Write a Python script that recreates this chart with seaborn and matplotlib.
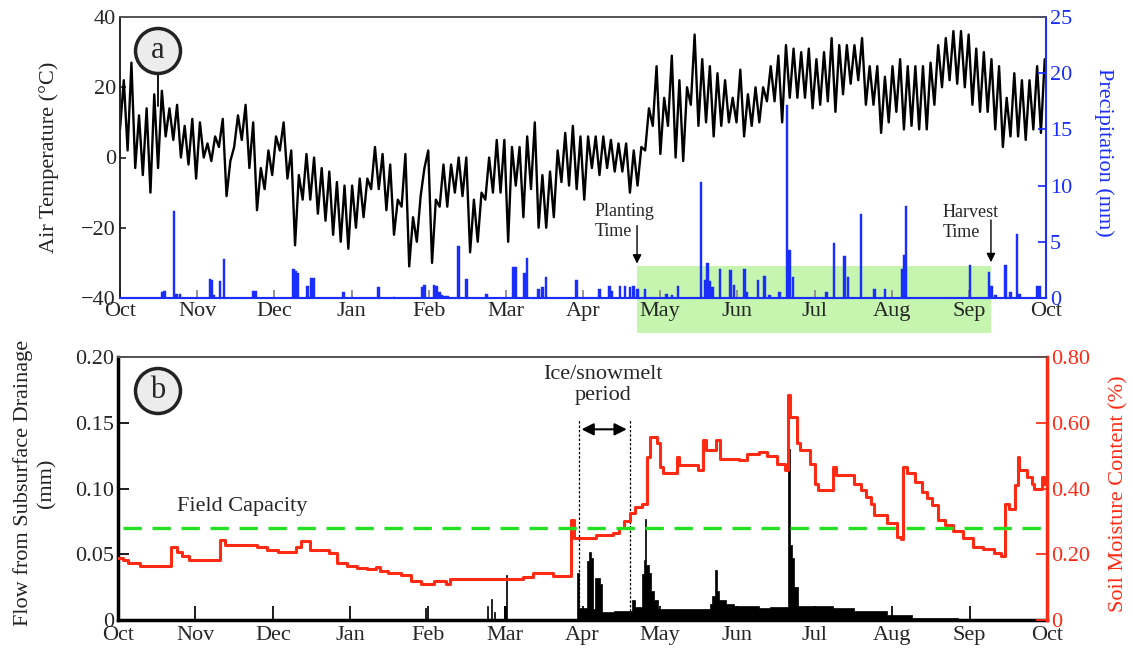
import numpy as np
import pandas as pd
import matplotlib
matplotlib.use("Agg")
import matplotlib.pyplot as plt
import seaborn as sns
from matplotlib.patches import Rectangle, Circle

# ---------------- data ----------------
month_labels = ['Oct', 'Nov', 'Dec', 'Jan', 'Feb', 'Mar', 'Apr',
                'May', 'Jun', 'Jul', 'Aug', 'Sep', 'Oct']

# air temperature envelope, sampled every 3 days from 1 Oct (°C)
temp_hi = [22, 27, 12, 14, 18, 19, 14, 15, 9, 11, 10, 4, 6, 11, -1, 12, 15, 10, -3, 2,
           6, 10, 2, -5, 1, 0, -3, -4, -7, -8, -8, -6, -6, 3, 1, -2, -12, 1, -17, -11,
           2, -12, -2, -2, 0, 0, -12, -10, 0, 5, 5, 3, 3, 6, 10, -5, -4, 2, 7, 9,
           6, 6, 6, 6, 5, 4, 4, 2, 3, 14, 26, 17, 29, 22, 20, 35, 28, 26, 24, 22,
           17, 25, 18, 20, 20, 26, 29, 32, 31, 30, 31, 28, 30, 34, 32, 32, 32, 34, 26, 26,
           23, 26, 28, 26, 26, 26, 27, 32, 34, 36, 36, 35, 31, 30, 28, 26, 17, 24, 22, 22,
           26, 28]
temp_lo = [8, 2, -3, -5, -10, -3, 6, 5, 0, -2, -6, 0, -1, 3, -11, 3, 5, -3, -15, -9,
           -5, 2, -6, -25, -12, -12, -16, -18, -22, -24, -26, -20, -17, -9, -9, -15, -22, -14, -31, -24,
           -3, -30, -14, -14, -10, -11, -27, -24, -12, -10, -10, -24, -8, -17, -9, -20, -20, -17, -7, -8,
           -9, -12, -3, -5, -3, -4, -4, -10, -8, 2, 9, 1, 9, 0, -1, 15, 9, 10, 6, 9,
           10, 10, 6, 9, 10, 16, 16, 10, 17, 17, 17, 14, 15, 16, 13, 18, 21, 22, 15, 15,
           7, 10, 13, 8, 9, 8, 8, 15, 20, 22, 21, 20, 15, 13, 13, 8, 3, 6, 6, 5,
           8, 7]

# precipitation events (day from 1 Oct, mm)
precip_day = [16.5, 17.5, 21.3, 22.3, 23.7, 35.5, 36.2, 37, 39.5, 41, 52.7, 53.5, 68.3, 69.3,
              70, 74, 75.3, 76.2, 88, 101.8, 108, 119.2, 120, 123.8, 124.8, 126, 127, 128,
              129, 133.5, 136.5, 144.5, 155, 155.8, 159.5, 160.5, 165, 166.5, 168, 180,
              189, 193, 193.8, 197, 199, 201, 202.5, 204, 207, 215.5, 217.5, 220, 229,
              230.5, 231.5, 232.5, 233.5, 236.5, 240.6, 242, 246.2, 247, 251.5, 254, 256,
              260, 263, 264, 265.3, 278.5, 281.5, 285.5, 287, 292, 297.5, 301.5, 308.5,
              309.3, 309.9, 335, 342.5, 343.5, 345, 349, 351, 353.5, 354.5, 361.5, 362.5]
precip_mm = [0.5, 0.6, 7.7, 0.4, 0.35, 1.7, 1.6, 0.3, 1.5, 3.5, 0.6, 0.6, 2.6, 2.4,
             2.2, 1.1, 1.8, 1.8, 0.55, 0.95, 0.1, 1.0, 1.2, 1.2, 1.1, 0.5, 0.3, 0.2,
             0.2, 4.6, 1.7, 0.35, 2.8, 2.8, 2.2, 3.6, 0.8, 1.0, 1.9, 1.6,
             0.8, 1.1, 0.6, 1.1, 1.1, 1.0, 1.1, 0.8, 0.8, 0.4, 0.3, 1.1, 10.3,
             1.6, 3.1, 1.5, 1.0, 2.6, 2.5, 1.2, 2.6, 0.5, 1.6, 2.0, 0.3,
             0.5, 17.2, 4.3, 1.9, 0.5, 4.9, 3.7, 1.9, 7.5, 0.8, 0.8, 2.6,
             3.8, 8.2, 2.9, 2.3, 1.1, 0.3, 2.9, 0.5, 5.7, 0.4, 1.1, 1.1]

# subsurface drainage flow (step breakpoints: day, mm)
flow_day = [0, 120.5, 121.2, 144.8, 145.3, 146.5, 147, 147.8, 148.3, 151.5, 152.5, 152.9,
            180.3, 181, 184.3, 185, 186, 186.6, 187.6, 189.2, 190.2, 195, 202, 203,
            205.8, 206.5, 207.2, 207.6, 208.5, 209.5, 210.5, 212, 232.5, 233.3, 234.5,
            235.3, 236, 239, 242, 252, 256, 263.2, 263.9, 264.7, 265.5, 267, 281, 289,
            302, 312, 330, 365]
flow_mm = [0, 0.009, 0, 0.011, 0, 0.016, 0, 0.006, 0, 0.011, 0.034, 0,
           0.036, 0.009, 0.045, 0.052, 0.047, 0.008, 0.032, 0.027, 0.006, 0.007, 0.015, 0.010,
           0.035, 0.046, 0.077, 0.042, 0.036, 0.022, 0.015, 0.008, 0.012, 0.018, 0.038,
           0.022, 0.015, 0.012, 0.011, 0.009, 0.010, 0.13, 0.057, 0.047, 0.025, 0.011, 0.009, 0.007,
           0.004, 0.0015, 0, 0]

# soil moisture content (step breakpoints: day, value)
sm_day = [0, 2, 4, 8.5, 21, 23, 25, 28, 40, 42, 54.5, 58.5, 63, 70, 72, 75.5, 83, 86, 90,
          94, 98, 101.5, 103, 106, 111, 115, 119, 124, 129, 130.5, 159, 163, 171, 178,
          179, 188, 194.6, 197, 199, 201, 203, 206, 208, 209, 211.6, 213, 214, 219.5,
          220.5, 228, 230, 231, 235, 236.5, 244, 247, 252, 255, 259, 262, 263.4, 264,
          266.7, 268, 272, 273.8, 275, 281, 282, 289, 292, 294, 296, 297, 302, 306,
          307.5, 308.5, 310, 313, 316, 318, 320, 322, 325, 328, 332, 336, 340, 344,
          347, 348.5, 350, 352.4, 353.5, 354, 357, 359, 360, 363, 364, 365]
sm_val = [0.190, 0.182, 0.174, 0.164, 0.223, 0.208, 0.194, 0.184, 0.243, 0.228, 0.223,
          0.213, 0.208, 0.223, 0.241, 0.213, 0.205, 0.172, 0.164, 0.157, 0.154, 0.162,
          0.150, 0.144, 0.137, 0.119, 0.111, 0.119, 0.111, 0.124, 0.132, 0.144, 0.134,
          0.304, 0.248, 0.258, 0.266, 0.280, 0.300, 0.324, 0.344, 0.354, 0.496, 0.557,
          0.537, 0.466, 0.446, 0.496, 0.471, 0.456, 0.547, 0.516, 0.547, 0.491, 0.486,
          0.506, 0.511, 0.498, 0.476, 0.456, 0.684, 0.618, 0.537, 0.516, 0.476, 0.415,
          0.395, 0.466, 0.440, 0.415, 0.395, 0.374, 0.354, 0.319, 0.294, 0.253, 0.245,
          0.466, 0.446, 0.420, 0.390, 0.370, 0.350, 0.304, 0.290, 0.270, 0.248, 0.223,
          0.215, 0.203, 0.194, 0.354, 0.339, 0.410, 0.496, 0.456, 0.435, 0.415, 0.397,
          0.435, 0.415, 0.415]

field_capacity = 0.07
planting_day, harvest_day = 203.8, 343.3
melt_start, melt_end = 181, 201

# ---------------- style ----------------
sns.set_theme(style="ticks")
plt.rcParams['font.family'] = ['Liberation Serif', 'DejaVu Serif']
plt.rcParams['axes.unicode_minus'] = True

BLUE = '#1a2eff'
RED = '#ff2a14'
GREEN = '#22e022'
FILL = '#c6f5b0'

fig = plt.figure(figsize=(11.33, 6.49), dpi=100)
ax1 = fig.add_axes([120/1133, 1-298/649, 926/1133, 281/649])
ax2 = ax1.twinx()
ax3 = fig.add_axes([118/1133, 1-620/649, 929/1133, 263/649])
ax4 = ax3.twinx()

month_pos = np.linspace(0, 365, 13)

# ---- panel a: temperature ----
days3 = np.arange(len(temp_hi)) * 3.0
zx = np.empty(2 * len(days3)); zy = np.empty(2 * len(days3))
zx[0::2] = days3; zx[1::2] = days3 + 1.5
zy[0::2] = temp_lo; zy[1::2] = temp_hi
df_t = pd.DataFrame({'day': zx, 'temp': zy})
sns.lineplot(data=df_t, x='day', y='temp', ax=ax1, color='black', lw=1.7,
             estimator=None, sort=False)
ax1.set_xlim(0, 365)
ax1.set_ylim(-40, 40)
ax1.set_yticks([-40, -20, 0, 20, 40])
ax1.set_xticks(month_pos)
ax1.set_xticklabels(month_labels)
ax1.set_xlabel('')
ax1.set_ylabel('Air Temperature (\u00b0C)', fontsize=16, color='#222222')
ax1.yaxis.set_label_coords(-0.066, 0.5)
ax1.tick_params(axis='x', direction='in', length=6, color='#888888', labelsize=16, pad=3)
ax1.tick_params(axis='y', direction='in', length=4, labelsize=16, pad=3)
ax1.spines['top'].set_color('#555555')
ax1.spines['left'].set_color('black')
ax1.spines['left'].set_linewidth(1.2)
ax1.spines['bottom'].set_color(BLUE)
ax1.spines['bottom'].set_linewidth(1.5)
ax1.set_axisbelow(True)

# growing season box
ax1.add_patch(Rectangle((planting_day, -50), harvest_day - planting_day, 19.1,
                        facecolor=FILL, edgecolor='none', clip_on=False, zorder=0.1))

# precipitation
df_p = pd.DataFrame({'day': precip_day, 'mm': precip_mm})
ax2.bar(df_p['day'], df_p['mm'], width=1.0, color=BLUE, edgecolor=BLUE, lw=0.3)
ax2.set_ylim(0, 25)
ax2.set_yticks([0, 5, 10, 15, 20, 25])
ax2.tick_params(axis='y', direction='in', length=6, colors=BLUE, labelsize=16, pad=3)
ax2.spines['right'].set_color(BLUE)
ax2.spines['right'].set_linewidth(1.5)
ax2.spines['top'].set_color('#555555')
ax2.spines['bottom'].set_color(BLUE)
ax2.spines['bottom'].set_linewidth(1.5)
ax2.set_ylabel('Precipitation (mm)', fontsize=16, color=BLUE, rotation=270, va='bottom')
ax2.yaxis.set_label_coords(1.052, 0.52)

# annotations panel a
ax1.text(187.2, -13.0, 'Planting\nTime', fontsize=13, ha='left', va='top', linespacing=1.2)
ax1.annotate('', xy=(planting_day, -31.0), xytext=(planting_day, -18.6),
             arrowprops=dict(arrowstyle='-|>', color='black', lw=1.0, mutation_scale=13))
ax1.text(324.4, -13.3, 'Harvest\nTime', fontsize=13, ha='left', va='top', linespacing=1.2)
ax1.annotate('', xy=(harvest_day, -30.6), xytext=(harvest_day, -17.0),
             arrowprops=dict(arrowstyle='-|>', color='black', lw=1.0, mutation_scale=13))

# ---- panel b: drainage + soil moisture ----
ax3.fill_between(flow_day, flow_mm, step='post', color='black', lw=0.5)
ax3.set_xlim(0, 365)
ax3.set_ylim(0, 0.20)
ax3.set_yticks([0, 0.05, 0.10, 0.15, 0.20])
ax3.set_yticklabels(['0', '0.05', '0.10', '0.15', '0.20'])
ax3.set_xticks(month_pos)
ax3.set_xticklabels(month_labels)
ax3.tick_params(axis='x', direction='in', length=10, color='black', labelsize=16, pad=4)
ax3.tick_params(axis='y', direction='in', length=8, color='black', labelsize=16, pad=3)
for s in ['left', 'bottom']:
    ax3.spines[s].set_linewidth(2.5)
    ax3.spines[s].set_color('black')
ax3.spines['top'].set_color('#555555')
ax3.set_ylabel('Flow from Subsurface Drainage\n(mm)', fontsize=16, color='#222222',
               linespacing=1.3)
ax3.yaxis.set_label_coords(-0.066, 0.52)

df_sm = pd.DataFrame({'day': sm_day, 'sm': sm_val})
sns.lineplot(data=df_sm, x='day', y='sm', ax=ax4, color=RED, lw=2.2,
             drawstyle='steps-post', estimator=None, sort=False)
ax4.axhline(field_capacity * 4, xmin=0.005, xmax=0.997, color=GREEN, lw=2.4,
            dashes=(5.5, 3.2))
ax4.set_ylim(0, 0.80)
ax4.set_xlim(0, 365)
ax4.set_yticks([0, 0.2, 0.4, 0.6, 0.8])
ax4.set_yticklabels(['0', '0.20', '0.40', '0.60', '0.80'])
ax4.tick_params(axis='y', direction='in', length=8, colors=RED, labelsize=16, pad=3)
ax4.spines['right'].set_color(RED)
ax4.spines['right'].set_linewidth(2.5)
ax4.spines['top'].set_color('#555555')
ax4.spines['left'].set_visible(False)
ax4.spines['bottom'].set_visible(False)
ax4.set_xlabel('')
ax4.set_ylabel('Soil Moisture Content (%)', fontsize=16, color=RED, rotation=90)
ax4.yaxis.set_label_coords(1.067, 0.48)

ax3.text(23.2, 0.086, 'Field Capacity', fontsize=16, ha='left', va='center')
ax3.vlines([melt_start, melt_end], 0, 0.152, colors='black', linestyles=(0, (2, 1.5)), lw=0.9)
ax3.annotate('', xy=(melt_start, 0.145), xytext=(melt_end, 0.145),
             arrowprops=dict(arrowstyle='<|-|>', color='black', lw=1.5, mutation_scale=18))
ax3.text(190.6, 0.194, 'Ice/snowmelt\nperiod', fontsize=16, ha='center', va='top',
         linespacing=1.15)

# panel letters
for (cx, cy, letter, line) in [(1.58, 6.49 - 0.51, 'a', True), (1.58, 6.49 - 3.91, 'b', False)]:
    fig.add_artist(Circle((cx, cy), 0.225, transform=fig.dpi_scale_trans,
                          facecolor='#ececec', edgecolor='#222222', lw=2.5, zorder=5))
    fig.text(cx, cy + 0.01, letter, transform=fig.dpi_scale_trans, fontsize=22,
             ha='center', va='center', zorder=6)
    if line:
        fig.add_artist(plt.Line2D([cx, cx], [cy - 0.225, cy - 0.55],
                                  transform=fig.dpi_scale_trans, color='black', lw=1.3, zorder=4))

fig.savefig('out.png', dpi=100)
